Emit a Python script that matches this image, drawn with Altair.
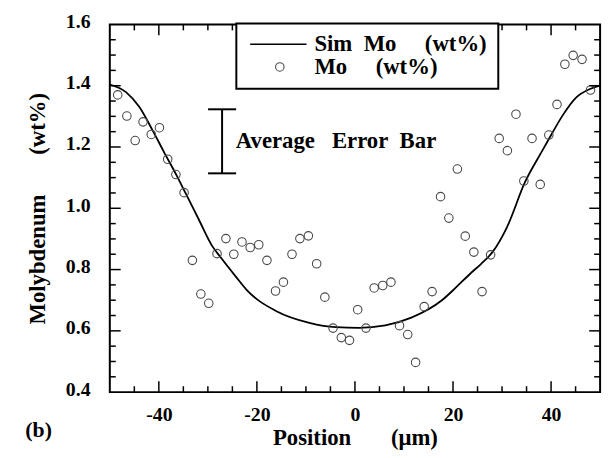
import altair as alt
import pandas as pd

pos_um = [-48.39, -46.52, -44.83, -43.22, -41.55, -39.88, -38.19, -36.52, -34.85, -33.16,
          -31.43, -29.82, -28.13, -26.32, -24.71, -23.04, -21.37, -19.62, -17.95, -16.20,
          -14.59, -12.84, -11.23, -9.50, -7.81, -6.14, -4.47, -2.78, -1.11, 0.56,
          2.25, 3.92, 5.67, 7.34, 9.09, 10.76, 12.37, 14.12, 15.73, 17.46,
          19.15, 20.89, 22.50, 24.25, 25.92, 27.67, 29.42, 31.09, 32.84, 34.45,
          36.12, 37.79, 39.54, 41.21, 42.82, 44.51, 46.32, 48.05]
mo_wt = [1.370, 1.301, 1.221, 1.282, 1.241, 1.263, 1.160, 1.110, 1.051, 0.830,
         0.720, 0.690, 0.852, 0.901, 0.850, 0.890, 0.872, 0.881, 0.830, 0.730,
         0.759, 0.850, 0.901, 0.910, 0.819, 0.710, 0.609, 0.578, 0.569, 0.669,
         0.609, 0.740, 0.748, 0.759, 0.617, 0.588, 0.497, 0.679, 0.728, 1.038,
         0.968, 1.128, 0.909, 0.857, 0.728, 0.848, 1.228, 1.188, 1.307, 1.089,
         1.228, 1.078, 1.239, 1.339, 1.470, 1.499, 1.486, 1.386]

# ---- simulated curve ----
sim_pos = [-50.0, -46.7, -44.0, -41.3, -39.0, -36.3, -34.6, -31.9, -29.2, -27.2,
           -24.3, -22.1, -16.0, -9.3, -3.9, 0.8, 6.2, 11.5, 17.6, 20.5,
           23.6, 25.7, 28.0, 31.0, 34.7, 38.1, 39.9, 42.4, 45.1, 48.2, 50.0]
sim_mo = [1.404, 1.379, 1.331, 1.255, 1.185, 1.105, 1.051, 0.965, 0.879, 0.836,
          0.777, 0.734, 0.664, 0.626, 0.612, 0.610, 0.618, 0.643, 0.698, 0.740,
          0.788, 0.818, 0.856, 0.938, 1.086, 1.185, 1.236, 1.304, 1.361, 1.391, 1.401]

# ---- average error bar ----
err_pos = [-27.1]
err_lo = [1.114]
err_hi = [1.323]
err_cap_left = [-29.96]
err_cap_right = [-24.24]
annot_pos = [-24.3]
annot_val = [1.218]

# ---- axes ticks / labels ----
x_tick_labels = [-40, -20, 0, 20, 40]
y_tick_labels = [0.4, 0.6, 0.8, 1.0, 1.2, 1.4, 1.6]
x_minor_ticks = [-45, -35, -30, -25, -15, -10, -5, 5, 10, 15, 25, 30, 35, 45]
y_major_ticks = [0.6, 0.8, 1.0, 1.2, 1.4]
y_minor_ticks = [0.45, 0.5, 0.55, 0.65, 0.7, 0.75, 0.85, 0.9, 0.95, 1.05, 1.1, 1.15,
                 1.25, 1.3, 1.35, 1.45, 1.5, 1.55]

# ---- texts ----
NB = "\u00a0"
x_title = "Position" + NB * 6 + " (\u03bcm)"
y_title = "Molybdenum" + NB * 6 + " (wt%)"
legend_labels = ["Sim" + NB + " Mo" + NB * 4 + " (wt%)", "Mo" + NB * 4 + " (wt%)"]
annotation = "Average" + NB * 2 + " Error" + NB + " Bar"
panel_label = "(b)"

FONT = "Liberation Serif"
W, H = 496, 372
MAJ, MIN = 11, 6

xs = alt.Scale(domain=[-50, 50], nice=False, zero=False)
ys = alt.Scale(domain=[0.4, 1.6], nice=False, zero=False)

x_axis = alt.Axis(values=x_tick_labels, title=x_title, ticks=False, tickSize=0, domain=False,
                  grid=False, labelExpr="toString(datum.value)", labelFont=FONT,
                  labelFontSize=20, labelFontWeight="bold", labelColor="black",
                  labelPadding=13, titleFont=FONT, titleFontSize=23, titleFontWeight="bold",
                  titleColor="black", titlePadding=2)
y_axis = alt.Axis(values=y_tick_labels, title=y_title, format=".1f", ticks=False, tickSize=0,
                  domain=False, grid=False, labelFont=FONT, labelFontSize=20,
                  labelFontWeight="bold", labelColor="black", labelPadding=20, labelOffset=-3,
                  titleFont=FONT, titleFontSize=23, titleFontWeight="bold", titleColor="black",
                  titlePadding=16)

def X(f="x"):
    return alt.X(f + ":Q", scale=xs, axis=x_axis)

def Y(f="y"):
    return alt.Y(f + ":Q", scale=ys, axis=y_axis)

pts = pd.DataFrame({"x": pos_um, "y": mo_wt})
sim = pd.DataFrame({"x": sim_pos, "y": sim_mo})
err = pd.DataFrame({"x": err_pos, "y": err_lo, "y2": err_hi})
caps = pd.DataFrame({"x": err_cap_left * 2, "x2": err_cap_right * 2, "y": err_lo + err_hi})
ann = pd.DataFrame({"x": annot_pos, "y": annot_val, "t": [annotation]})
xmaj = pd.DataFrame({"x": x_tick_labels})
xmin = pd.DataFrame({"x": x_minor_ticks})
ymaj = pd.DataFrame({"y": y_major_ticks})
ymin = pd.DataFrame({"y": y_minor_ticks})
one = pd.DataFrame({"k": [0]})

curve = alt.Chart(sim).mark_line(color="black", strokeWidth=1.8, interpolate="monotone").encode(
    x=X(), y=Y())

points = alt.Chart(pts).mark_point(shape="circle", filled=False, size=74, color="#4a4a4a",
                                   strokeWidth=1.1, opacity=1).encode(x=X(), y=Y())

err_v = alt.Chart(err).mark_rule(color="black", strokeWidth=2).encode(
    x=X(), y=Y(), y2="y2:Q")
err_c = alt.Chart(caps).mark_rule(color="black", strokeWidth=2).encode(
    x=X(), x2="x2:Q", y=Y())
ann_t = alt.Chart(ann).mark_text(align="left", baseline="middle", font=FONT, fontSize=23,
                                 fontWeight="bold", color="black").encode(
    x=X(), y=Y(), text="t:N")

def xt(df, y0, y1):
    return alt.Chart(df).mark_rule(color="black", strokeWidth=1.5).encode(
        x=X(), y=alt.value(y0), y2=alt.value(y1))

def yt(df, x0, x1):
    return alt.Chart(df).mark_rule(color="black", strokeWidth=1.5).encode(
        y=Y(), x=alt.value(x0), x2=alt.value(x1))

ticks = [xt(xmaj, H, H - MAJ), xt(xmin, H, H - MIN), xt(xmaj, 0, MAJ), xt(xmin, 0, MIN),
         yt(ymaj, 0, MAJ), yt(ymin, 0, MIN), yt(ymaj, W, W - MAJ), yt(ymin, W, W - MIN)]

leg_box = alt.Chart(one).mark_rect(fill="white", stroke="black", strokeWidth=2).encode(
    x=alt.value(128), x2=alt.value(393), y=alt.value(-1), y2=alt.value(65))
leg_line = alt.Chart(one).mark_rule(color="black", strokeWidth=1.6).encode(
    x=alt.value(142), x2=alt.value(199), y=alt.value(20))
leg_pt = alt.Chart(one).mark_point(shape="circle", filled=False, size=74, color="#4a4a4a",
                                   strokeWidth=1.1, opacity=1).encode(
    x=alt.value(172), y=alt.value(43))
leg_t1 = alt.Chart(one).mark_text(align="left", baseline="middle", font=FONT, fontSize=23,
                                  fontWeight="bold", color="black").encode(
    x=alt.value(207), y=alt.value(20), text=alt.value(legend_labels[0]))
leg_t2 = alt.Chart(one).mark_text(align="left", baseline="middle", font=FONT, fontSize=23,
                                  fontWeight="bold", color="black").encode(
    x=alt.value(207), y=alt.value(43), text=alt.value(legend_labels[1]))
panel = alt.Chart(one).mark_text(align="center", baseline="middle", font=FONT, fontSize=22,
                                 fontWeight="bold", color="black").encode(
    x=alt.value(-72), y=alt.value(410), text=alt.value(panel_label))

chart = alt.layer(curve, points, err_v, err_c, ann_t, *ticks, leg_box, leg_line, leg_pt,
                  leg_t1, leg_t2, panel).properties(
    width=W, height=H,
    padding={"left": 103, "top": 14, "right": 8, "bottom": 62},
    autosize=alt.AutoSizeParams(type="none"),
    background="white",
).configure_view(stroke="black", strokeWidth=2)

chart.save("out.html", embed_options={"renderer": "svg", "actions": False})
